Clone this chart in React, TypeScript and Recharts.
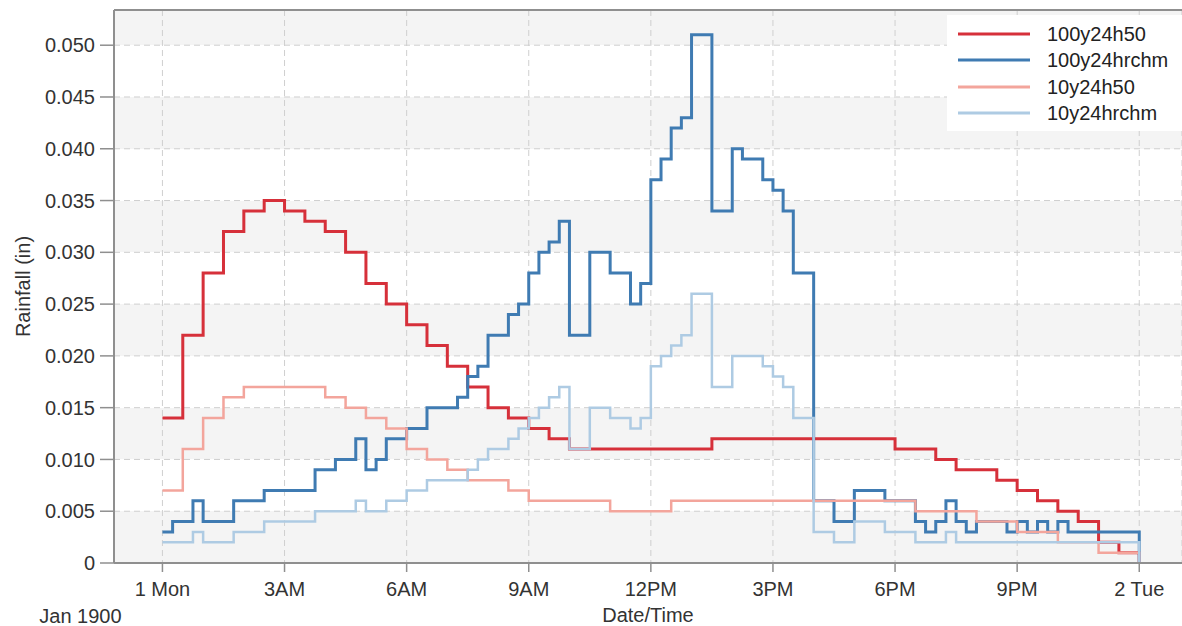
import { LineChart, Line, XAxis, YAxis, CartesianGrid, Legend, ReferenceLine, Label } from 'recharts'

const FONT = '"Liberation Sans", Arial, sans-serif'
const TEXT = '#333333'
const AXIS = '#8f8f8f'

// hours after 1 Mon 00:00, one point every 15 minutes
const times = Array.from({ length: 97 }, (_, i) => i * 0.25)

const xTicks = [0, 3, 6, 9, 12, 15, 18, 21, 24]
const xTickLabels = ['1 Mon', '3AM', '6AM', '9AM', '12PM', '3PM', '6PM', '9PM', '2 Tue']
const yTicks = [0, 0.005, 0.01, 0.015, 0.02, 0.025, 0.03, 0.035, 0.04, 0.045, 0.05]

// rainfall (in) per 15 min, 8 values = 2 hours per row, last value = 2 Tue 00:00
const rain100y24h50 = [
  0.014, 0.014, 0.022, 0.022, 0.028, 0.028, 0.032, 0.032,
  0.034, 0.034, 0.035, 0.035, 0.034, 0.034, 0.033, 0.033,
  0.032, 0.032, 0.030, 0.030, 0.027, 0.027, 0.025, 0.025,
  0.023, 0.023, 0.021, 0.021, 0.019, 0.019, 0.017, 0.017,
  0.015, 0.015, 0.014, 0.014, 0.013, 0.013, 0.012, 0.012,
  0.011, 0.011, 0.011, 0.011, 0.011, 0.011, 0.011, 0.011,
  0.011, 0.011, 0.011, 0.011, 0.011, 0.011, 0.012, 0.012,
  0.012, 0.012, 0.012, 0.012, 0.012, 0.012, 0.012, 0.012,
  0.012, 0.012, 0.012, 0.012, 0.012, 0.012, 0.012, 0.012,
  0.011, 0.011, 0.011, 0.011, 0.010, 0.010, 0.009, 0.009,
  0.009, 0.009, 0.008, 0.008, 0.007, 0.007, 0.006, 0.006,
  0.005, 0.005, 0.004, 0.004, 0.002, 0.002, 0.001, 0.001,
  0
]

const rain100y24hrchm = [
  0.003, 0.004, 0.004, 0.006, 0.004, 0.004, 0.004, 0.006,
  0.006, 0.006, 0.007, 0.007, 0.007, 0.007, 0.007, 0.009,
  0.009, 0.010, 0.010, 0.012, 0.009, 0.010, 0.012, 0.012,
  0.013, 0.013, 0.015, 0.015, 0.015, 0.016, 0.018, 0.019,
  0.022, 0.022, 0.024, 0.025, 0.028, 0.030, 0.031, 0.033,
  0.022, 0.022, 0.030, 0.030, 0.028, 0.028, 0.025, 0.027,
  0.037, 0.039, 0.042, 0.043, 0.051, 0.051, 0.034, 0.034,
  0.040, 0.039, 0.039, 0.037, 0.036, 0.034, 0.028, 0.028,
  0.006, 0.006, 0.004, 0.004, 0.007, 0.007, 0.007, 0.006,
  0.006, 0.006, 0.004, 0.003, 0.004, 0.006, 0.004, 0.003,
  0.004, 0.004, 0.004, 0.003, 0.004, 0.003, 0.004, 0.003,
  0.004, 0.003, 0.003, 0.003, 0.003, 0.003, 0.003, 0.003,
  0
]

const rain10y24h50 = [
  0.007, 0.007, 0.011, 0.011, 0.014, 0.014, 0.016, 0.016,
  0.017, 0.017, 0.017, 0.017, 0.017, 0.017, 0.017, 0.017,
  0.016, 0.016, 0.015, 0.015, 0.014, 0.014, 0.013, 0.013,
  0.011, 0.011, 0.010, 0.010, 0.009, 0.009, 0.008, 0.008,
  0.008, 0.008, 0.007, 0.007, 0.006, 0.006, 0.006, 0.006,
  0.006, 0.006, 0.006, 0.006, 0.005, 0.005, 0.005, 0.005,
  0.005, 0.005, 0.006, 0.006, 0.006, 0.006, 0.006, 0.006,
  0.006, 0.006, 0.006, 0.006, 0.006, 0.006, 0.006, 0.006,
  0.006, 0.006, 0.006, 0.006, 0.006, 0.006, 0.006, 0.006,
  0.006, 0.006, 0.005, 0.005, 0.005, 0.005, 0.005, 0.005,
  0.004, 0.004, 0.004, 0.004, 0.003, 0.003, 0.003, 0.003,
  0.002, 0.002, 0.002, 0.002, 0.001, 0.001, 0.001, 0.001,
  0
]

const rain10y24hrchm = [
  0.002, 0.002, 0.002, 0.003, 0.002, 0.002, 0.002, 0.003,
  0.003, 0.003, 0.004, 0.004, 0.004, 0.004, 0.004, 0.005,
  0.005, 0.005, 0.005, 0.006, 0.005, 0.005, 0.006, 0.006,
  0.007, 0.007, 0.008, 0.008, 0.008, 0.008, 0.009, 0.010,
  0.011, 0.011, 0.012, 0.013, 0.014, 0.015, 0.016, 0.017,
  0.011, 0.011, 0.015, 0.015, 0.014, 0.014, 0.013, 0.014,
  0.019, 0.020, 0.021, 0.022, 0.026, 0.026, 0.017, 0.017,
  0.020, 0.020, 0.020, 0.019, 0.018, 0.017, 0.014, 0.014,
  0.003, 0.003, 0.002, 0.002, 0.004, 0.004, 0.004, 0.003,
  0.003, 0.003, 0.002, 0.002, 0.002, 0.003, 0.002, 0.002,
  0.002, 0.002, 0.002, 0.002, 0.002, 0.002, 0.002, 0.002,
  0.002, 0.002, 0.002, 0.002, 0.002, 0.002, 0.002, 0.002,
  0
]

const seriesNames = ['100y24h50', '100y24hrchm', '10y24h50', '10y24hrchm']
const seriesValues = [rain100y24h50, rain100y24hrchm, rain10y24h50, rain10y24hrchm]
const seriesColors = ['#d6303a', '#3f7bb2', '#f3a59c', '#aecbe3']
const seriesWidths = [3, 3, 2.5, 2.5]

const data = times.map((t, i) => {
  const row: Record<string, number> = { t }
  seriesNames.forEach((name, s) => {
    row[name] = seriesValues[s][i]
  })
  return row
})

const formatY = (v: number) => (v === 0 ? '0' : v.toFixed(3))

const XTick = ({ x, y, payload }: any) => {
  const idx = xTicks.indexOf(payload.value)
  return (
    <g>
      <text x={x} y={y} dy="0.71em" textAnchor="middle" fill={TEXT} fontSize={20} fontFamily={FONT}>
        {xTickLabels[idx]}
      </text>
      {payload.value === 0 && (
        <text x={x - 82} y={y} dy={41} textAnchor="middle" fill={TEXT} fontSize={20} fontFamily={FONT}>
          Jan 1900
        </text>
      )}
    </g>
  )
}

const LegendBox = () => (
  <div
    style={{
      background: '#ffffff',
      width: 235,
      height: 116,
      paddingTop: 6,
      boxSizing: 'border-box',
      fontFamily: FONT,
      fontSize: 20,
      color: '#222'
    }}
  >
    {seriesNames.map((name, i) => (
      <div key={name} style={{ height: 26.3, display: 'flex', alignItems: 'center' }}>
        <svg width={100} height={10} style={{ display: 'block' }}>
          <line x1={11} x2={83} y1={5} y2={5} stroke={seriesColors[i]} strokeWidth={3} />
        </svg>
        <span style={{ lineHeight: '20px' }}>{name}</span>
      </div>
    ))}
  </div>
)

export default function App() {
  return (
    <div style={{ position: 'absolute', left: 0, top: 9 }}>
      <LineChart width={1182} height={617} data={data} margin={{ top: 1, right: 0, bottom: 0, left: 0 }}>
        <CartesianGrid
          stroke="#cfcfcf"
          strokeDasharray="6 4"
          horizontalFill={['#f4f4f4', '#ffffff']}
          fillOpacity={1}
        />
        <XAxis
          dataKey="t"
          type="number"
          domain={[-1.19, 25.05]}
          allowDataOverflow
          ticks={xTicks}
          interval={0}
          height={63}
          tickSize={9}
          tickMargin={10}
          tick={<XTick />}
          axisLine={{ stroke: AXIS, strokeWidth: 2 }}
          tickLine={{ stroke: AXIS, strokeWidth: 1.5 }}
        >
          <Label value="Date/Time" position="insideBottom" offset={4} fill={TEXT} fontSize={20} fontFamily={FONT} />
        </XAxis>
        <YAxis
          type="number"
          domain={[0, 0.0534]}
          allowDataOverflow
          ticks={yTicks}
          interval={0}
          width={114}
          tickSize={14}
          tickMargin={5}
          tickFormatter={formatY}
          tick={{ fill: TEXT, fontSize: 20, fontFamily: FONT }}
          axisLine={{ stroke: AXIS, strokeWidth: 2 }}
          tickLine={{ stroke: AXIS, strokeWidth: 1.5 }}
        >
          <Label
            value="Rainfall (in)"
            angle={-90}
            position="insideLeft"
            offset={23}
            fill={TEXT}
            fontSize={20}
            fontFamily={FONT}
            style={{ textAnchor: 'middle' }}
          />
        </YAxis>
        <ReferenceLine y={0.0534} stroke={AXIS} strokeWidth={2} />
        {seriesNames.map((name, i) => (
          <Line
            key={name}
            type="stepAfter"
            dataKey={name}
            stroke={seriesColors[i]}
            strokeWidth={seriesWidths[i]}
            dot={false}
            activeDot={false}
            isAnimationActive={false}
          />
        ))}
        <Legend
          layout="horizontal"
          verticalAlign="middle"
          align="center"
          content={<LegendBox />}
          wrapperStyle={{ left: 947, top: 6, width: 235, height: 116 }}
        />
      </LineChart>
    </div>
  )
}
